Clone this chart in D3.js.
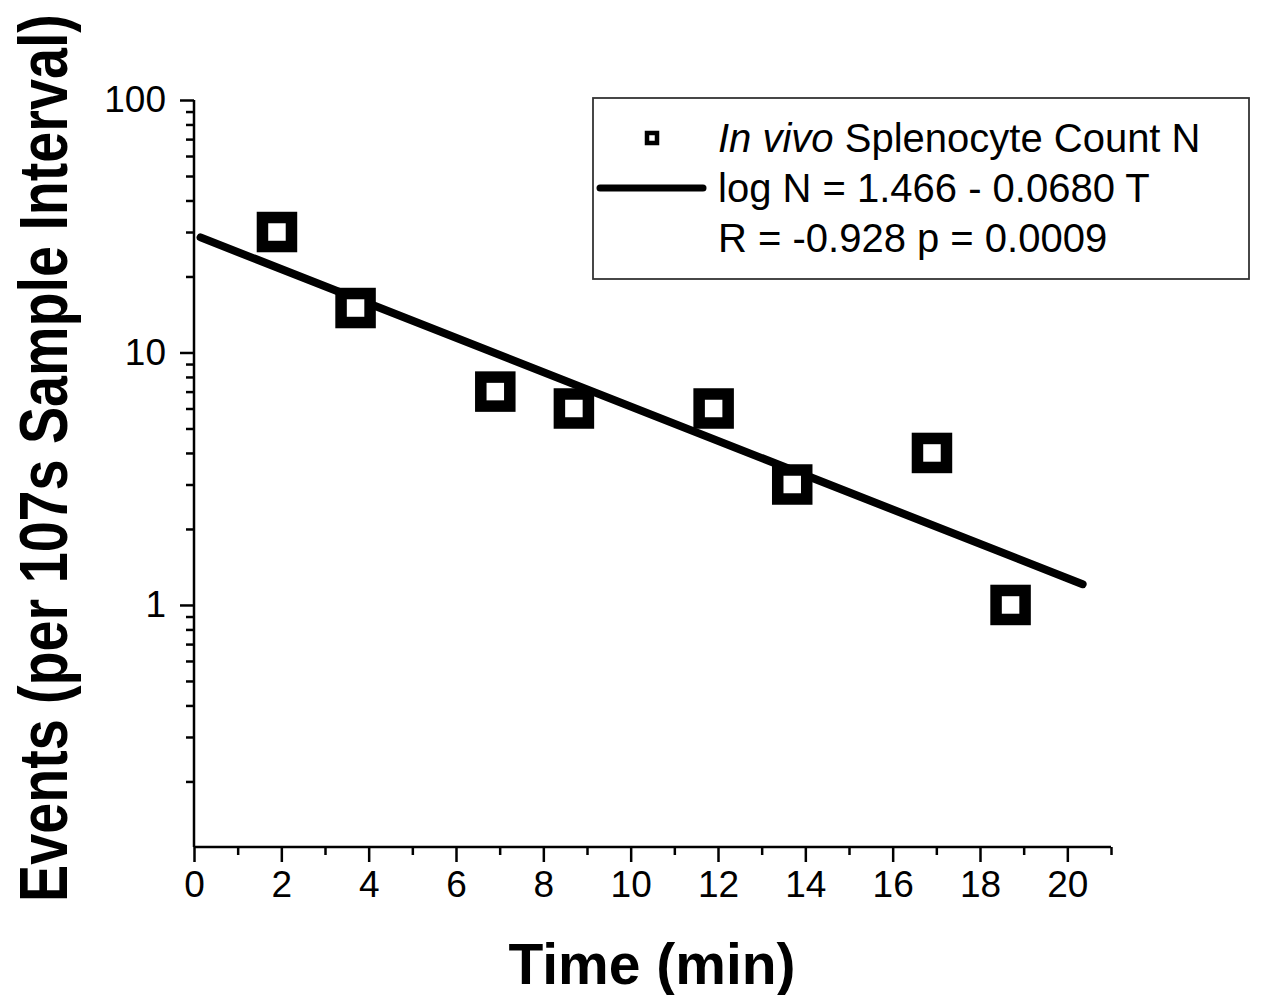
<!DOCTYPE html>
<html>
<head>
<meta charset="utf-8">
<script src="https://cdn.jsdelivr.net/npm/d3@7"></script>
<style>
  html, body { margin: 0; padding: 0; background: #fff; }
  svg { display: block; }
  text { font-family: "Liberation Sans", Arial, sans-serif; fill: #000; }
</style>
</head>
<body>
<svg id="chart" width="1269" height="995"></svg>
<script>
// ---- data ----
const times = [1.9, 3.7, 6.9, 8.7, 11.9, 13.7, 16.9, 18.7];
const counts = [30, 15, 7, 6, 6, 3, 4, 1];
const fitIntercept = 1.466;
const fitSlope = -0.068;
const fitRange = [0.15, 20.35];
const xTickLabels = [0, 2, 4, 6, 8, 10, 12, 14, 16, 18, 20];
const xMinorTicks = [1, 3, 5, 7, 9, 11, 13, 15, 17, 19, 21];
const yTickLabels = [1, 10, 100];
const yMinorTicks = [0.2, 0.3, 0.4, 0.5, 0.6, 0.7, 0.8, 0.9, 2, 3, 4, 5, 6, 7, 8, 9, 20, 30, 40, 50, 60, 70, 80, 90];
const legendLines = ["Splenocyte Count N", "log N = 1.466 - 0.0680 T", "R = -0.928 p = 0.0009"];
const xTitle = "Time (min)";
const yTitle = "Events (per 107s Sample Interval)";

// ---- layout ----
const svg = d3.select("#chart");
const x = d3.scaleLinear().domain([0, 21]).range([194, 1111]);
const y = d3.scaleLog().domain([0.11, 100]).range([847, 100]);

const axisW = 2.5;

// x axis
const gx = svg.append("g").attr("transform", `translate(0,${y.range()[0]})`);
gx.call(d3.axisBottom(x).tickValues(xTickLabels).tickSize(15).tickPadding(9).tickFormat(d3.format("d")));
gx.append("g").call(d3.axisBottom(x).tickValues(xMinorTicks).tickSize(8).tickFormat(""))
  .select(".domain").remove();
gx.selectAll(".domain").attr("d", `M${x(0)},0H${x(21)}`);
gx.selectAll("path, line").attr("stroke", "#000").attr("stroke-width", axisW);
gx.selectAll("text").attr("font-size", 37).attr("font-family", "Liberation Sans, Arial, sans-serif").attr("dy", "0.71em");

// y axis
const gy = svg.append("g").attr("transform", `translate(${x.range()[0]},0)`);
gy.call(d3.axisLeft(y).tickValues(yTickLabels).tickSize(14).tickPadding(14).tickFormat(d3.format("d")));
gy.append("g").call(d3.axisLeft(y).tickValues(yMinorTicks).tickSize(8).tickFormat(""))
  .select(".domain").remove();
gy.selectAll(".domain").attr("d", `M0,${y(0.11)}V${y(100)}`);
gy.selectAll("path, line").attr("stroke", "#000").attr("stroke-width", axisW);
gy.selectAll("text").attr("font-size", 37).attr("font-family", "Liberation Sans, Arial, sans-serif");

// fit line
const fitPts = fitRange.map(t => [t, Math.pow(10, fitIntercept + fitSlope * t)]);
svg.append("path")
  .attr("d", d3.line().x(d => x(d[0])).y(d => y(d[1]))(fitPts))
  .attr("fill", "none").attr("stroke", "#000").attr("stroke-width", 8)
  .attr("stroke-linecap", "round");

// markers
const ms = 29;
svg.append("g").selectAll("rect").data(times.map((t, i) => [t, counts[i]])).join("rect")
  .attr("x", d => x(d[0]) - ms / 2).attr("y", d => y(d[1]) - ms / 2)
  .attr("width", ms).attr("height", ms)
  .attr("fill", "#fff").attr("stroke", "#000").attr("stroke-width", 11.5);

// legend
const lg = svg.append("g");
lg.append("rect").attr("x", 593).attr("y", 98).attr("width", 656).attr("height", 181)
  .attr("fill", "#fff").attr("stroke", "#333").attr("stroke-width", 1.8);
lg.append("rect").attr("x", 647).attr("y", 133).attr("width", 10).attr("height", 10)
  .attr("fill", "#fff").attr("stroke", "#000").attr("stroke-width", 4.5);
lg.append("line").attr("x1", 600).attr("x2", 703).attr("y1", 188).attr("y2", 188)
  .attr("stroke", "#000").attr("stroke-width", 7).attr("stroke-linecap", "round");
const t1 = lg.append("text").attr("x", 718).attr("y", 152).attr("font-size", 40);
t1.append("tspan").attr("font-style", "italic").text("In vivo");
t1.append("tspan").text(" " + legendLines[0]);
lg.append("text").attr("x", 718).attr("y", 202).attr("font-size", 40).text(legendLines[1]);
lg.append("text").attr("x", 718).attr("y", 252).attr("font-size", 40).text(legendLines[2]);

// axis titles
svg.append("text").attr("x", 652).attr("y", 984).attr("text-anchor", "middle")
  .attr("font-size", 57).attr("font-weight", "bold").text(xTitle);
const yt = svg.append("text")
  .attr("text-anchor", "middle").attr("font-size", 68).attr("font-weight", "bold")
  .text(yTitle);
const natural = yt.node().getComputedTextLength();
const sx = 888 / natural;
yt.attr("transform", `translate(67,458) rotate(-90) scale(${sx},1)`);
</script>
</body>
</html>
